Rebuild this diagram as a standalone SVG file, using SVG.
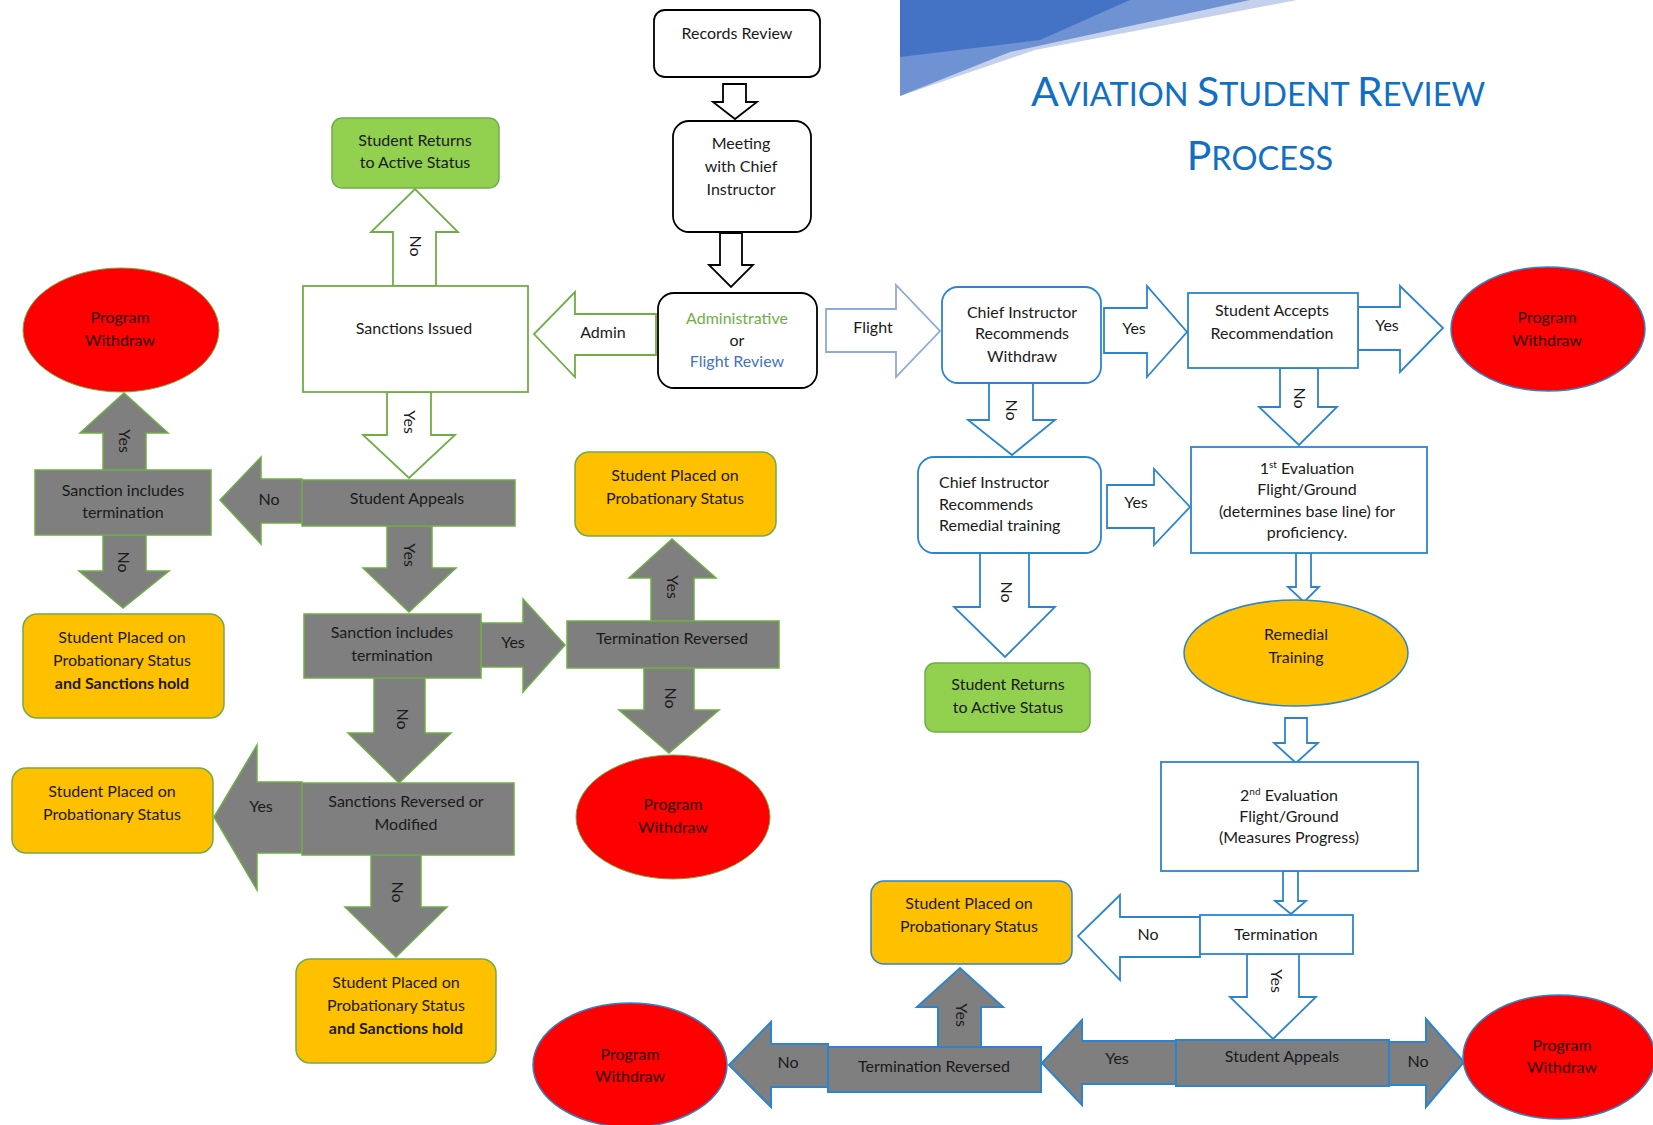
<svg xmlns="http://www.w3.org/2000/svg" width="1653" height="1125" viewBox="0 0 1653 1125">
<style>
.t{font-family:Lato,"Liberation Sans",sans-serif;font-size:16px;fill:#1a1a1a;text-anchor:middle}
.tl{text-anchor:start}
.b{font-weight:bold}
.rt{fill:#2a0000}
.title{font-family:Lato,"Liberation Sans",sans-serif;fill:#1170C4;text-anchor:middle}
.box-b{fill:#fff;stroke:#000;stroke-width:1.8}
.box-g{fill:#fff;stroke:#70AD47;stroke-width:1.8}
.box-u{fill:#fff;stroke:#2C84CF;stroke-width:1.8}
.gray-g{fill:#7F7F7F;stroke:#70AD47;stroke-width:1.5}
.gray-u{fill:#7F7F7F;stroke:#2C84CF;stroke-width:2}
.green{fill:#92D050;stroke:#70AD47;stroke-width:1.5}
.org-g{fill:#FFC000;stroke:#70AD47;stroke-width:1.5}
.org-u{fill:#FFC000;stroke:#2C84CF;stroke-width:1.5}
.red-g{fill:#FF0000;stroke:#70AD47;stroke-width:1}
.red-u{fill:#FF0000;stroke:#2C84CF;stroke-width:1.5}
.ar-b{fill:#fff;stroke:#000;stroke-width:1.8}
.ar-g{fill:#fff;stroke:#70AD47;stroke-width:1.8}
.ar-u{fill:#fff;stroke:#2C84CF;stroke-width:1.8}
.ar-p{fill:#fff;stroke:#8EA9DB;stroke-width:1.8}
</style>

<g id="banner">
<polygon points="900,96 1035,50 1297,0 900,0" fill="#C3D1EC"/>
<polygon points="900,96 1010,52 1250,0 900,0" fill="#6F92D2"/>
<polygon points="900,57 1040,40 1130,0 900,0" fill="#4472C4"/>
</g>
<g id="title">
<text class="title" x="1258" y="106"><tspan font-size="41">A</tspan><tspan font-size="32.5">VIATION </tspan><tspan font-size="41">S</tspan><tspan font-size="32.5">TUDENT </tspan><tspan font-size="41">R</tspan><tspan font-size="32.5">EVIEW</tspan></text>
<text class="title" x="1260" y="170"><tspan font-size="41">P</tspan><tspan font-size="32.5">ROCESS</tspan></text>
</g>

<g id="connectors">
<path class="ar-b" d="M723,84 L746,84 L746,102 L757,102 L735,119 L713,102 L723,102 Z"/>
<path class="ar-b" d="M720,233 L742,233 L742,265 L753,265 L731,287 L709,265 L720,265 Z"/>
<g><path class="ar-g" d="M656,314 L575,314 L575,292 L534,334 L575,377 L575,355 L656,355 Z"/><text class="t" x="603" y="338">Admin</text></g>
<g><path class="ar-p" d="M826,309 L896,309 L896,285 L940,331 L896,377 L896,352 L826,352 Z"/><text class="t" x="873" y="333">Flight</text></g>
<g><path class="ar-u" d="M1104,308 L1147,308 L1147,286 L1187,332 L1147,377 L1147,353 L1104,353 Z"/><text class="t" x="1134" y="334">Yes</text></g>
<g><path class="ar-u" d="M1358,307 L1400,307 L1400,286 L1443,328 L1400,372 L1400,350 L1358,350 Z"/><text class="t" x="1387" y="331">Yes</text></g>
<g><path class="ar-u" d="M1280,368 L1318,368 L1318,407 L1337,407 L1299,445 L1259,407 L1280,407 Z"/><text class="t" transform="translate(1299,398) rotate(90)" dy="5">No</text></g>
<g><path class="ar-u" d="M989,383 L1033,383 L1033,420 L1055,420 L1012,455 L968,420 L989,420 Z"/><text class="t" transform="translate(1011,410) rotate(90)" dy="5">No</text></g>
<g><path class="ar-u" d="M1107,485 L1154,485 L1154,469 L1190,507 L1154,545 L1154,528 L1107,528 Z"/><text class="t" x="1136" y="508">Yes</text></g>
<g><path class="ar-u" d="M980,553 L1029,553 L1029,607 L1055,607 L1005,657 L954,607 L980,607 Z"/><text class="t" transform="translate(1006,592) rotate(90)" dy="5">No</text></g>
<path class="ar-u" d="M1296,553 L1311,553 L1311,587 L1319,587 L1304,602 L1288,587 L1296,587 Z"/>
<path class="ar-u" d="M1285,718 L1307,718 L1307,743 L1318,743 L1296,763 L1274,743 L1285,743 Z"/>
<path class="ar-u" d="M1283,871 L1298,871 L1298,901 L1306,901 L1291,914 L1275,901 L1283,901 Z"/>
<g><path class="ar-u" d="M1200,917 L1120,917 L1120,895 L1078,936 L1120,980 L1120,957 L1200,957 Z"/><text class="t" x="1148" y="940">No</text></g>
<g><path class="ar-u" d="M1247,954 L1299,954 L1299,997 L1316,997 L1273,1039 L1230,997 L1247,997 Z"/><text class="t" transform="translate(1276,981) rotate(90)" dy="5">Yes</text></g>
<g><path class="gray-u" d="M1389,1042 L1426,1042 L1426,1019 L1464,1062 L1426,1107 L1426,1085 L1389,1085 Z"/><text class="t" x="1418" y="1067">No</text></g>
<g><path class="gray-u" d="M1176,1041 L1082,1041 L1082,1020 L1042,1063 L1082,1105 L1082,1084 L1176,1084 Z"/><text class="t" x="1117" y="1064">Yes</text></g>
<g><path class="gray-u" d="M938,1047 L938,1007 L917,1007 L960,968 L1003,1007 L981,1007 L981,1047 Z"/><text class="t" transform="translate(961,1015) rotate(90)" dy="5">Yes</text></g>
<g><path class="gray-u" d="M828,1044 L771,1044 L771,1022 L729,1065 L771,1107 L771,1087 L828,1087 Z"/><text class="t" x="788" y="1068">No</text></g>

<g><path class="ar-g" d="M393,286 L393,232 L371,232 L415,189 L458,232 L436,232 L436,286 Z"/><text class="t" transform="translate(415,246) rotate(90)" dy="5">No</text></g>
<g><path class="ar-g" d="M387,392 L431,392 L431,435 L455,435 L409,478 L363,435 L387,435 Z"/><text class="t" transform="translate(409,422) rotate(90)" dy="5">Yes</text></g>
<g><path class="gray-g" d="M302,479 L261,479 L261,457 L220,500 L261,544 L261,523 L302,523 Z"/><text class="t" x="269" y="505">No</text></g>
<g><path class="gray-g" d="M103,470 L103,433 L80,433 L124,393 L168,433 L146,433 L146,470 Z"/><text class="t" transform="translate(124,441) rotate(90)" dy="5">Yes</text></g>
<g><path class="gray-g" d="M103,535 L146,535 L146,571 L169,571 L123,608 L79,571 L103,571 Z"/><text class="t" transform="translate(123,562) rotate(90)" dy="5">No</text></g>
<g><path class="gray-g" d="M387,526 L432,526 L432,568 L456,568 L409,612 L363,568 L387,568 Z"/><text class="t" transform="translate(409,555) rotate(90)" dy="5">Yes</text></g>
<g><path class="gray-g" d="M481,623 L523,623 L523,599 L565,645 L523,692 L523,667 L481,667 Z"/><text class="t" x="513" y="648">Yes</text></g>
<g><path class="gray-g" d="M651,621 L651,578 L629,578 L672,539 L716,578 L694,578 L694,621 Z"/><text class="t" transform="translate(672,587) rotate(90)" dy="5">Yes</text></g>
<g><path class="gray-g" d="M644,668 L694,668 L694,710 L719,710 L669,753 L619,710 L644,710 Z"/><text class="t" transform="translate(670,698) rotate(90)" dy="5">No</text></g>
<g><path class="gray-g" d="M374,678 L425,678 L425,733 L451,733 L399,783 L348,733 L374,733 Z"/><text class="t" transform="translate(402,719) rotate(90)" dy="5">No</text></g>
<g><path class="gray-g" d="M302,782 L257,782 L257,745 L214,817 L257,890 L257,853 L302,853 Z"/><text class="t" x="261" y="812">Yes</text></g>
<g><path class="gray-g" d="M371,855 L421,855 L421,907 L447,907 L396,957 L345,907 L371,907 Z"/><text class="t" transform="translate(397,892) rotate(90)" dy="5">No</text></g>
</g>

<g id="records-review"><rect class="box-b" x="654" y="10" width="166" height="67" rx="11"/><text class="t" x="737" y="39">Records Review</text></g>
<g id="meeting"><rect class="box-b" x="673" y="121" width="138" height="111" rx="16"/><text class="t" x="741" y="149">Meeting</text><text class="t" x="741" y="172">with Chief</text><text class="t" x="741" y="195">Instructor</text></g>
<g id="admin-or-flight"><rect class="box-b" x="658" y="293" width="159" height="95" rx="16"/><text class="t" x="737" y="324" style="fill:#70AD47">Administrative</text><text class="t" x="737" y="346">or</text><text class="t" x="737" y="367" style="fill:#4472C4">Flight Review</text></g>

<g id="ci-withdraw"><rect class="box-u" x="942" y="287" width="159" height="96" rx="16"/><text class="t" x="1022" y="318">Chief Instructor</text><text class="t" x="1022" y="339">Recommends</text><text class="t" x="1022" y="362">Withdraw</text></g>
<g id="student-accepts"><rect class="box-u" x="1188" y="293" width="170" height="75"/><text class="t" x="1272" y="316">Student Accepts</text><text class="t" x="1272" y="339">Recommendation</text></g>
<g id="pw-right"><ellipse class="red-u" cx="1548" cy="329" rx="97" ry="62"/><text class="t rt" x="1547" y="323">Program</text><text class="t rt" x="1547" y="346">Withdraw</text></g>
<g id="ci-remedial"><rect class="box-u" x="918" y="457" width="183" height="96" rx="16"/><text class="t tl" x="939" y="488">Chief Instructor</text><text class="t tl" x="939" y="510">Recommends</text><text class="t tl" x="939" y="531">Remedial training</text></g>
<g id="returns-right"><rect class="green" x="925" y="663" width="165" height="69" rx="10"/><text class="t" x="1008" y="690">Student Returns</text><text class="t" x="1008" y="713">to Active Status</text></g>
<g id="eval-1"><rect class="box-u" x="1191" y="447" width="236" height="106"/><text class="t" x="1307" y="474">1<tspan font-size="10" dy="-6">st</tspan><tspan dy="6"> Evaluation</tspan></text><text class="t" x="1307" y="495">Flight/Ground</text><text class="t" x="1307" y="517">(determines base line) for</text><text class="t" x="1307" y="538">proficiency.</text></g>
<g id="remedial-training"><ellipse class="org-u" cx="1296" cy="653" rx="112" ry="53"/><text class="t" x="1296" y="640">Remedial</text><text class="t" x="1296" y="663">Training</text></g>
<g id="eval-2"><rect class="box-u" x="1161" y="762" width="257" height="109"/><text class="t" x="1289" y="801">2<tspan font-size="10" dy="-6">nd</tspan><tspan dy="6"> Evaluation</tspan></text><text class="t" x="1289" y="822">Flight/Ground</text><text class="t" x="1289" y="843">(Measures Progress)</text></g>
<g id="termination"><rect class="box-u" x="1200" y="915" width="153" height="39"/><text class="t" x="1276" y="940">Termination</text></g>
<g id="appeals-bottom"><rect class="gray-u" x="1176" y="1040" width="213" height="46"/><text class="t" x="1282" y="1062">Student Appeals</text></g>
<g id="pw-bottom-right"><ellipse class="red-u" cx="1559" cy="1057" rx="96" ry="62"/><text class="t rt" x="1562" y="1051">Program</text><text class="t rt" x="1562" y="1073">Withdraw</text></g>
<g id="reversed-bottom"><rect class="gray-u" x="828" y="1047" width="213" height="45"/><text class="t" x="934" y="1072">Termination Reversed</text></g>
<g id="probation-bottom"><rect class="org-u" x="871" y="881" width="201" height="83" rx="13"/><text class="t" x="969" y="909">Student Placed on</text><text class="t" x="969" y="932">Probationary Status</text></g>
<g id="pw-bottom-left"><ellipse class="red-u" cx="630" cy="1065" rx="97" ry="62"/><text class="t rt" x="630" y="1060">Program</text><text class="t rt" x="630" y="1082">Withdraw</text></g>

<g id="returns-left"><rect class="green" x="332" y="118" width="167" height="70" rx="10"/><text class="t" x="415" y="146">Student Returns</text><text class="t" x="415" y="168">to Active Status</text></g>
<g id="sanctions-issued"><rect class="box-g" x="303" y="286" width="225" height="106"/><text class="t" x="414" y="334">Sanctions Issued</text></g>
<g id="pw-left"><ellipse class="red-g" cx="121" cy="330" rx="98" ry="62"/><text class="t rt" x="120" y="323">Program</text><text class="t rt" x="120" y="346">Withdraw</text></g>
<g id="appeals-left"><rect class="gray-g" x="302" y="480" width="213" height="46"/><text class="t" x="407" y="504">Student Appeals</text></g>
<g id="termination-check-left"><rect class="gray-g" x="35" y="470" width="176" height="65"/><text class="t" x="123" y="496">Sanction includes</text><text class="t" x="123" y="518">termination</text></g>
<g id="probation-hold-left"><rect class="org-g" x="23" y="614" width="201" height="104" rx="14"/><text class="t" x="122" y="643">Student Placed on</text><text class="t" x="122" y="666">Probationary Status</text><text class="t b" x="122" y="689">and Sanctions hold</text></g>
<g id="termination-check-mid"><rect class="gray-g" x="304" y="614" width="177" height="64"/><text class="t" x="392" y="638">Sanction includes</text><text class="t" x="392" y="661">termination</text></g>
<g id="reversed-mid"><rect class="gray-g" x="567" y="621" width="212" height="47"/><text class="t" x="672" y="644">Termination Reversed</text></g>
<g id="probation-mid"><rect class="org-g" x="575" y="452" width="201" height="84" rx="14"/><text class="t" x="675" y="481">Student Placed on</text><text class="t" x="675" y="504">Probationary Status</text></g>
<g id="pw-mid"><ellipse class="red-g" cx="673" cy="817" rx="97" ry="62"/><text class="t rt" x="673" y="810">Program</text><text class="t rt" x="673" y="833">Withdraw</text></g>
<g id="sanctions-reversed"><rect class="gray-g" x="302" y="783" width="212" height="72"/><text class="t" x="406" y="807">Sanctions Reversed or</text><text class="t" x="406" y="830">Modified</text></g>
<g id="probation-left"><rect class="org-g" x="12" y="768" width="201" height="85" rx="14"/><text class="t" x="112" y="797">Student Placed on</text><text class="t" x="112" y="820">Probationary Status</text></g>
<g id="probation-hold-bottom"><rect class="org-g" x="296" y="959" width="200" height="104" rx="14"/><text class="t" x="396" y="988">Student Placed on</text><text class="t" x="396" y="1011">Probationary Status</text><text class="t b" x="396" y="1034">and Sanctions hold</text></g>
</svg>
